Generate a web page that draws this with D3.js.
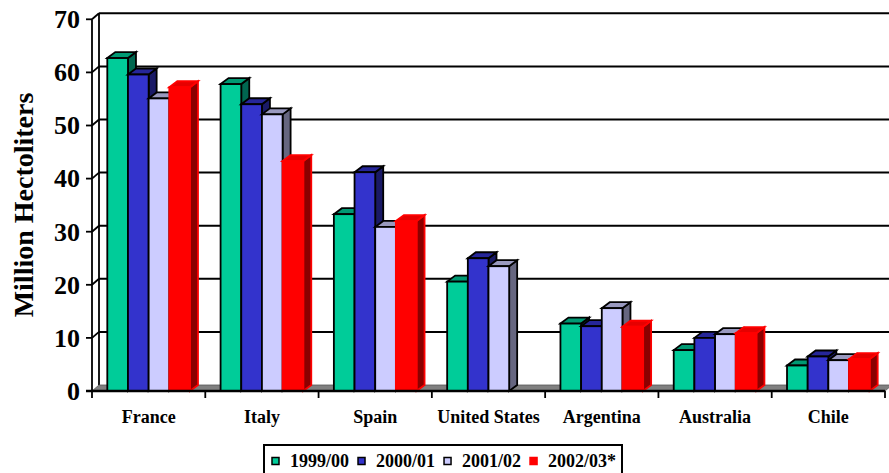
<!DOCTYPE html>
<html>
<head>
<meta charset="utf-8">
<script src="https://cdn.jsdelivr.net/npm/d3@7/dist/d3.min.js"></script>
<style>
  html, body { margin: 0; padding: 0; background: #ffffff; }
  svg { display: block; }
  text { font-family: "Liberation Serif", "Times New Roman", serif; font-weight: bold; fill: #000; }
</style>
</head>
<body>
<svg id="chart" width="889" height="473" font-family="Liberation Serif, Times New Roman, serif"></svg>
<script>
// Wine production by country, million hectoliters
const categories = ["France", "Italy", "Spain", "United States", "Argentina", "Australia", "Chile"];
const seasons = ["1999/00", "2000/01", "2001/02", "2002/03*"];
const prod1999 = [62.7, 57.8, 33.3, 20.6, 12.7, 7.7, 4.8];
const prod2000 = [59.6, 54.0, 41.2, 25.0, 12.2, 10.0, 6.5];
const prod2001 = [55.1, 52.1, 30.9, 23.5, 15.6, 10.7, 5.8];
const prod2002 = [57.2, 43.3, 32.0, null, 12.1, 10.9, 6.0];
const yTicks = [0, 10, 20, 30, 40, 50, 60, 70];

const seriesValues = [prod1999, prod2000, prod2001, prod2002];

// face / top / side shading and outline for each season
const palette = [
  { face: "#00cc99", top: "#009973", side: "#006650", stroke: "#000" },
  { face: "#3333cc", top: "#262699", side: "#1a1a66", stroke: "#000" },
  { face: "#ccccff", top: "#9999bf", side: "#666680", stroke: "#000" },
  { face: "#ff0000", top: "#e60000", side: "#8b0000", stroke: "#ff0000" }
];

const svg = d3.select("#chart");

const plotLeft = 92, plotRight = 885, plotBottom = 391, plotTop = 19.3;
const wallDx = 7, wallDy = -6;   // depth of back wall / floor
const barDx = 8, barDy = -6;     // depth of each bar

const x0 = d3.scaleBand().domain(categories).range([plotLeft, plotRight]).padding(0);
const x1 = d3.scaleBand().domain(seasons).range([0, x0.bandwidth()]).paddingInner(0).paddingOuter(0.74);
const y = d3.scaleLinear().domain([0, 70]).range([plotBottom, plotTop]);

// back wall gridlines
const wall = svg.append("g");
wall.selectAll("line.grid")
  .data(yTicks.filter(t => t > 0))
  .join("line")
  .attr("x1", plotLeft + wallDx).attr("x2", 889 + wallDx)
  .attr("y1", d => y(d) + wallDy).attr("y2", d => y(d) + wallDy)
  .attr("stroke", "#000").attr("stroke-width", 2);
wall.append("line")
  .attr("x1", plotLeft + wallDx).attr("x2", plotLeft + wallDx)
  .attr("y1", y(70) + wallDy).attr("y2", y(0) + wallDy)
  .attr("stroke", "#000").attr("stroke-width", 1.8);

// floor
svg.append("polygon")
  .attr("points", [
    [plotLeft, y(0)], [plotRight, y(0)], [plotRight + wallDx, y(0) + wallDy], [plotLeft + wallDx, y(0) + wallDy]
  ].map(p => p.join(",")).join(" "))
  .attr("fill", "#808080").attr("stroke", "#555").attr("stroke-width", 0.8);

// bars, drawn left to right so each front face covers the previous side face
const bars = svg.append("g");
categories.forEach((cat, ci) => {
  seasons.forEach((s, si) => {
    const v = seriesValues[si][ci];
    if (v == null) return;
    const c = palette[si];
    const bx = x0(cat) + x1(s);
    const bw = x1.bandwidth();
    const yt = y(v), yb = y(0);
    const g = bars.append("g")
      .attr("stroke", c.stroke).attr("stroke-width", 1.8).attr("stroke-linejoin", "miter");
    g.append("polygon")
      .attr("points", [[bx + bw, yt], [bx + bw + barDx, yt + barDy], [bx + bw + barDx, yb + barDy], [bx + bw, yb]].map(p => p.join(",")).join(" "))
      .attr("fill", c.side);
    g.append("polygon")
      .attr("points", [[bx, yt], [bx + barDx, yt + barDy], [bx + bw + barDx, yt + barDy], [bx + bw, yt]].map(p => p.join(",")).join(" "))
      .attr("fill", c.top);
    g.append("rect")
      .attr("x", bx).attr("y", yt).attr("width", bw).attr("height", yb - yt)
      .attr("fill", c.face);
  });
});

// front axes
const axes = svg.append("g").attr("stroke", "#000").attr("stroke-width", 1.8);
axes.append("line").attr("x1", plotLeft).attr("x2", plotLeft).attr("y1", y(70)).attr("y2", y(0) + 7);
axes.append("line").attr("x1", plotLeft - 6).attr("x2", plotRight).attr("y1", y(0)).attr("y2", y(0)).attr("stroke-width", 2.4);
axes.selectAll("line.ytick").data(yTicks).join("line")
  .attr("x1", plotLeft - 6).attr("x2", plotLeft).attr("y1", d => y(d)).attr("y2", d => y(d));
axes.selectAll("line.ydiag").data(yTicks.filter(t => t > 0)).join("line")
  .attr("x1", plotLeft).attr("x2", plotLeft + wallDx).attr("y1", d => y(d)).attr("y2", d => y(d) + wallDy);
const bounds = categories.map(c => x0(c)).concat([plotRight]).slice(1);
axes.selectAll("line.xtick").data(bounds).join("line")
  .attr("x1", d => d).attr("x2", d => d).attr("y1", y(0)).attr("y2", y(0) + 7);

// y tick labels
svg.append("g").selectAll("text").data(yTicks).join("text")
  .attr("x", 80).attr("y", d => y(d)).attr("dy", "0.34em")
  .attr("text-anchor", "end").attr("font-size", 26)
  .text(d => d);

// category labels
svg.append("g").selectAll("text").data(categories).join("text")
  .attr("x", d => x0(d) + x0.bandwidth() / 2).attr("y", 423)
  .attr("text-anchor", "middle").attr("font-size", 18)
  .text(d => d);

// y axis title
svg.append("text")
  .attr("transform", "translate(33,205) rotate(-90)")
  .attr("text-anchor", "middle").attr("font-size", 28)
  .text("Million Hectoliters");

// legend
const legend = svg.append("g");
legend.append("rect")
  .attr("x", 264).attr("y", 445).attr("width", 358).attr("height", 40)
  .attr("fill", "#fff").attr("stroke", "#000").attr("stroke-width", 2);
let lx = 272;
seasons.forEach((s, si) => {
  const c = palette[si];
  legend.append("rect")
    .attr("x", lx).attr("y", 457.5).attr("width", 7).attr("height", 7)
    .attr("fill", c.face).attr("stroke", c.stroke).attr("stroke-width", 1.5);
  const t = legend.append("text")
    .attr("x", lx + 18).attr("y", 467).attr("font-size", 18)
    .text(s);
  lx = lx + 18 + t.node().getComputedTextLength() + 9;
});
</script>
</body>
</html>
